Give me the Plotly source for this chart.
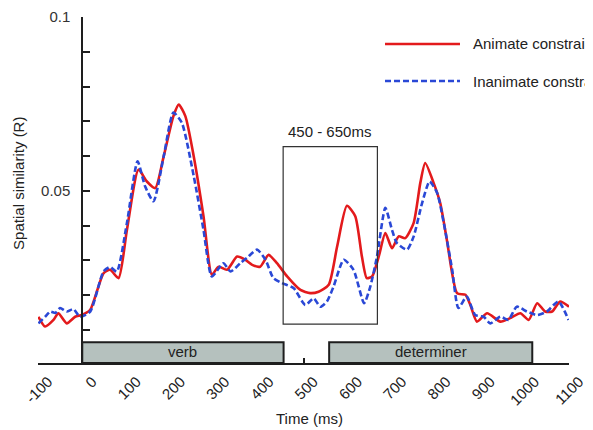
import plotly.graph_objects as go

# ---- data ----
time_animate = [-99, -84, -65, -54, -35, -16, -1, 18, 48, 63, 82, 101, 127, 146, 165, 184, 206, 218, 233, 252,
                274, 293, 308, 327, 350, 368, 384, 402, 421, 440, 463, 493, 515, 534, 557, 576, 598, 617, 632,
                643, 655, 670, 685, 700, 715, 730, 749, 764, 775, 794, 809, 824, 847, 866, 877, 892, 915, 945,
                967, 990, 1009, 1028, 1046, 1062, 1080, 1100]
r_animate = [0.0138, 0.0110, 0.0129, 0.0148, 0.0119, 0.0138, 0.0143, 0.0158, 0.0263, 0.0273, 0.0249, 0.0388,
             0.0561, 0.0527, 0.0508, 0.0599, 0.0715, 0.0748, 0.0715, 0.0599, 0.0427, 0.0259, 0.0282, 0.0273,
             0.0311, 0.0302, 0.0287, 0.0282, 0.0316, 0.0292, 0.0254, 0.0215, 0.0206, 0.0210, 0.0230, 0.0340,
             0.0457, 0.0427, 0.0311, 0.0249, 0.0254, 0.0311, 0.0379, 0.0335, 0.0369, 0.0364, 0.0408, 0.0523,
             0.0580, 0.0523, 0.0465, 0.0359, 0.0206, 0.0201, 0.0172, 0.0124, 0.0148, 0.0124, 0.0134, 0.0148,
             0.0129, 0.0177, 0.0153, 0.0153, 0.0182, 0.0167]

time_inanimate = [-99, -84, -72, -61, -50, -35, -20, -5, 18, 48, 63, 78, 101, 125, 142, 161, 184, 206, 225, 252,
                  274, 293, 319, 335, 357, 372, 395, 414, 432, 451, 478, 504, 523, 538, 553, 568, 591, 613, 637,
                  651, 666, 685, 700, 711, 734, 749, 768, 785, 802, 817, 836, 850, 869, 888, 907, 922, 945, 963,
                  982, 1005, 1028, 1050, 1076, 1099]
r_inanimate = [0.0119, 0.0138, 0.0153, 0.0149, 0.0163, 0.0153, 0.0160, 0.0138, 0.0153, 0.0268, 0.0281, 0.0268,
               0.0408, 0.0585, 0.0513, 0.0470, 0.0599, 0.0725, 0.0696, 0.0542, 0.0388, 0.0254, 0.0292, 0.0268,
               0.0292, 0.0307, 0.0331, 0.0302, 0.0249, 0.0235, 0.0220, 0.0172, 0.0191, 0.0167, 0.0182, 0.0225,
               0.0302, 0.0273, 0.0177, 0.0225, 0.0311, 0.0451, 0.0388, 0.0350, 0.0331, 0.0369, 0.0465, 0.0527,
               0.0494, 0.0408, 0.0273, 0.0163, 0.0196, 0.0143, 0.0138, 0.0119, 0.0138, 0.0129, 0.0167, 0.0153,
               0.0143, 0.0153, 0.0182, 0.0129]

series_names = ["Animate constraint", "Inanimate constraint"]
x_ticks = list(range(-100, 1101, 100))
y_ticks = [0.01, 0.02, 0.03, 0.04, 0.05, 0.06, 0.07, 0.08, 0.09, 0.1]
y_tick_labels = ["", "", "", "", "0.05", "", "", "", "", "0.1"]
word_labels = ["verb", "determiner"]
word_start = [0, 558]
word_end = [455, 1017]
window_start, window_end = 454, 667
window_label = "450 - 650ms"

FONT = "Liberation Sans, Arial, sans-serif"
RED = "#e31a1c"
BLUE = "#2a48d6"
AX = "#1e1e1e"
TXT = "#222"
FS = 15

fig = go.Figure()
fig.add_trace(go.Scatter(x=time_animate, y=r_animate, mode="lines", name=series_names[0],
                         line=dict(color=RED, width=2.6, shape="spline", smoothing=0.6),
                         showlegend=False))
fig.add_trace(go.Scatter(x=time_inanimate, y=r_inanimate, mode="lines", name=series_names[1],
                         line=dict(color=BLUE, width=2.6, dash="6px,3px", shape="spline", smoothing=0.6),
                         showlegend=False))

# word bars on the time axis
for lab, s, e in zip(word_labels, word_start, word_end):
    fig.add_shape(type="rect", xref="x", yref="y", x0=s, x1=e, y0=0.0005, y1=0.0065,
                  fillcolor="#b5c1be", line=dict(color=AX, width=2), layer="above")
    fig.add_annotation(x=(s + e) / 2, y=0.0037, xref="x", yref="y", text=lab, showarrow=False,
                       font=dict(family=FONT, size=FS, color=TXT))

# analysis window
fig.add_shape(type="rect", xref="x", yref="y", x0=window_start, x1=window_end, y0=0.0117, y1=0.0627,
              line=dict(color="#333", width=1.2), fillcolor="rgba(0,0,0,0)")
fig.add_annotation(x=(window_start + window_end) / 2 - 2, y=0.0672, xref="x", yref="y", text=window_label,
                   showarrow=False, font=dict(family=FONT, size=FS, color=TXT))

# legend (drawn manually)
fig.add_shape(type="line", xref="paper", yref="paper", x0=0.6535, x1=0.7947, y0=0.922, y1=0.922,
              line=dict(color=RED, width=2.6))
fig.add_shape(type="line", xref="paper", yref="paper", x0=0.6535, x1=0.7947, y0=0.815, y1=0.815,
              line=dict(color=BLUE, width=2.6, dash="6px,3px"))
fig.add_annotation(x=0.815, y=0.922, xref="paper", yref="paper", text=series_names[0], showarrow=False,
                   xanchor="left", yanchor="middle", font=dict(family=FONT, size=FS, color=TXT))
fig.add_annotation(x=0.815, y=0.815, xref="paper", yref="paper", text=series_names[1], showarrow=False,
                   xanchor="left", yanchor="middle", font=dict(family=FONT, size=FS, color=TXT))

# axis titles
fig.add_annotation(x=-0.038, y=0.52, xref="paper", yref="paper", text="Spatial similarity (R)",
                   textangle=-90, showarrow=False, xanchor="center", yanchor="middle",
                   font=dict(family=FONT, size=FS, color=TXT))
fig.add_annotation(x=0.512, y=-0.159, xref="paper", yref="paper", text="Time (ms)",
                   showarrow=False, xanchor="center", yanchor="middle",
                   font=dict(family=FONT, size=FS, color=TXT))

# the page adds an 8px body margin, so the figure is sized to the remaining window
fig.update_layout(
    width=585, height=422,
    margin=dict(l=30, r=24, t=9, b=67),
    paper_bgcolor="white", plot_bgcolor="white",
    font=dict(family=FONT, size=FS, color=TXT),
    xaxis=dict(range=[-100, 1100], tickmode="array", tickvals=x_ticks,
               ticktext=[str(v) for v in x_ticks], tickangle=-45, automargin=False,
               ticklabelshift=10, ticklabelstandoff=2,
               showline=True, linecolor=AX, linewidth=2, ticks="inside", ticklen=5,
               tickcolor=AX, tickwidth=2, showgrid=False, zeroline=False,
               tickfont=dict(family=FONT, size=FS, color=TXT)),
    yaxis=dict(range=[0.0005, 0.1], tickmode="array", tickvals=y_ticks, ticktext=y_tick_labels,
               anchor="free", position=100 / 1200, automargin=False,
               showline=True, linecolor=AX, linewidth=2, ticks="inside", ticklen=7,
               tickcolor=AX, tickwidth=2, showgrid=False, zeroline=False, ticklabelstandoff=8,
               tickfont=dict(family=FONT, size=FS, color="#333")),
)

fig.write_html("out.html")
